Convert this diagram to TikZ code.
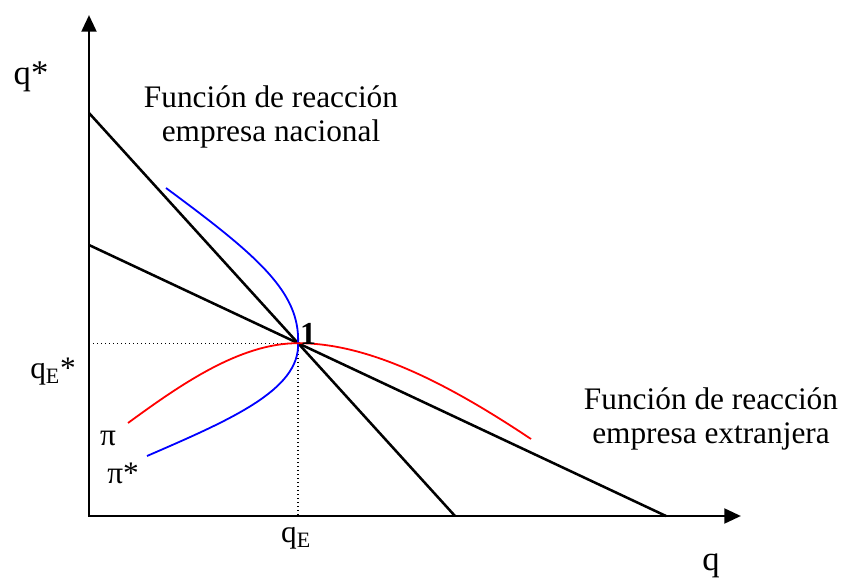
\documentclass[tikz,border=0pt]{standalone}
\usepackage{fontspec}
\setmainfont{Liberation Serif}
\usetikzlibrary{arrows.meta}
\begin{document}
\begin{tikzpicture}[x=0.75pt,y=-0.75pt,
    eje/.style={line width=2.2pt,{Triangle[width=11pt,length=12.5pt]}-{Triangle[width=11pt,length=12.5pt]}},
    recta/.style={line width=1.9pt},
    curva/.style={line width=1.35pt},
    guia/.style={dotted,line width=1pt},
    rotulo/.style={font=\fontsize{23.5}{26}\selectfont,inner sep=0pt},
    grande/.style={font=\fontsize{26}{30}\selectfont,inner sep=0pt}]
    \useasboundingbox (0,0) rectangle (844,581);

    \coordinate (o) at (89,516);
    \coordinate (ytop) at (89,15);
    \coordinate (xend) at (741,516);
    \coordinate (n1) at (89,113);
    \coordinate (n2) at (455,516);
    \coordinate (e1) at (89,245);
    \coordinate (e2) at (666,516);
    \coordinate (eq) at (intersection of n1--n2 and e1--e2);
    \coordinate (qa) at (o |- eq);
    \coordinate (qb) at (eq |- o);
    \coordinate (b1) at (166,188);
    \coordinate (b2) at (147,456);
    \coordinate (r1) at (128,423);
    \coordinate (r2) at (531,439);

    \draw[eje] (ytop) -- (o) -- (xend);
    \draw[recta] (n1) -- (n2);
    \draw[recta] (e1) -- (e2);
    \draw[guia] (qa) -- (eq) -- (qb);

    \draw[curva,blue] (b1) .. controls (258,256) and (300,292) .. (eq)
        .. controls (300,390) and (230,420) .. (b2);
    \draw[curva,red] (r1) .. controls (180,385) and (240,343) .. (eq)
        .. controls (370,343) and (450,385) .. (r2);

    \node[grande] (ylab) at (31,77) {q*};
    \node[grande] (xlab) at (711,566) {q};
    \node[rotulo] (qes) at (53,372) {q\textsubscript{E}*};
    \node[rotulo] (qe) at (296,538) {q\textsubscript{E}};
    \node[rotulo] (pi) at (108,438) {π};
    \node[rotulo] (pis) at (123,473) {π*};
    \node[font=\fontsize{24}{26}\selectfont\bfseries,inner sep=0pt] (uno) at (308,334) {1};
    \node[rotulo,align=center] (fn) at (271,117) {Función de reacción\\empresa nacional};
    \node[rotulo,align=center] (fe) at (711,419) {Función de reacción\\empresa extranjera};
\end{tikzpicture}
\end{document}
